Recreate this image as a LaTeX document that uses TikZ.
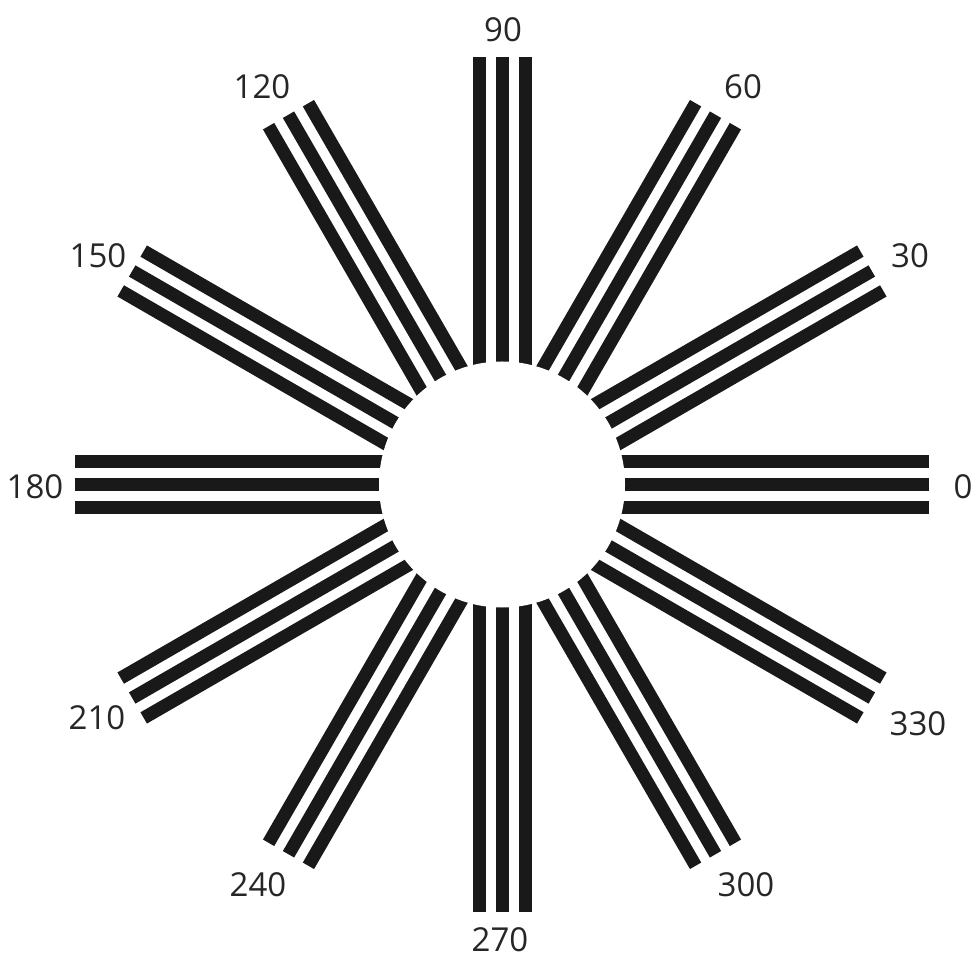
\documentclass[tikz,border=0pt]{standalone}
\usepackage{fontspec}
\setmainfont{Open Sans}
\usetikzlibrary{calc}
\begin{document}
\begin{tikzpicture}[x=1pt,y=1pt,
  barline/.style={line width=13pt,line cap=butt,draw=black!90},
  deglabel/.style={font=\fontsize{33}{36}\selectfont,text=black!85,inner sep=0pt}]
\useasboundingbox[fill=white] (0,0) rectangle (976,959);
\coordinate (c) at (502,474.5);
\foreach \a in {0,30,...,330}{
  \foreach \o in {-23,0,23}{
    \draw[barline] ($(c)+(\a:100)+(\a+90:\o)$) -- ($(c)+(\a:427)+(\a+90:\o)$);
  }
}
\fill[white] (c) circle (123);
\node[deglabel] (l0)   at (963,472) {0};
\node[deglabel] (l30)  at (910,703) {30};
\node[deglabel] (l60)  at (743,872) {60};
\node[deglabel] (l90)  at (503,929) {90};
\node[deglabel] (l120) at (262,872) {120};
\node[deglabel] (l150) at (98,703) {150};
\node[deglabel] (l180) at (35,472) {180};
\node[deglabel] (l210) at (97,241) {210};
\node[deglabel] (l240) at (258,74) {240};
\node[deglabel] (l270) at (500,19) {270};
\node[deglabel] (l300) at (746,74) {300};
\node[deglabel] (l330) at (918,235) {330};
\end{tikzpicture}
\end{document}
